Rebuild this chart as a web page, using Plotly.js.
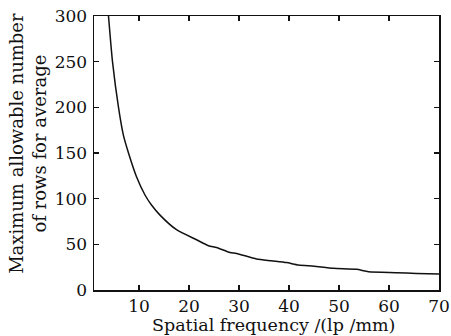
<!DOCTYPE html>
<html>
<head>
<meta charset="utf-8">
<script src="https://cdn.plot.ly/plotly-3.0.1.min.js"></script>
<style>html,body{margin:0;padding:0;background:#fff;}#chart{width:451px;height:336px;}</style>
</head>
<body>
<div id="chart"></div>
<script>
const freq = [3.9, 4.7, 5.9, 6.9, 7.9, 9.5, 11.2, 12.5, 14.2, 17.5, 21.5, 23.9, 25.5, 28.2, 29.5, 33.5, 36.5, 39.5, 41.9, 45, 48.9, 53.5, 55.9, 61.5, 65.5, 70];
const rows = [300, 250, 200, 169, 150, 124, 104, 93, 82, 66, 55, 48.5, 46.5, 41, 40, 34, 32, 30, 27.4, 26, 23.7, 22.6, 20, 19, 18.2, 17.5];
const xTicks = [10, 20, 30, 40, 50, 60, 70];
const yTicks = [0, 50, 100, 150, 200, 250, 300];
const xTitle = 'Spatial frequency /(lp /mm)';
const yTitle = 'Maximum allowable number<br>of rows for average';

const font = {family: 'DejaVu Serif', size: 18, color: '#111'};
const xTitleFont = {family: 'DejaVu Serif', size: 17.5, color: '#111'};
const tickFont = {family: 'DejaVu Serif', size: 17, color: '#111'};
const axisCommon = {
  showline: true, linecolor: '#111', linewidth: 1.5, mirror: 'ticks',
  ticks: 'inside', ticklen: 5, tickwidth: 1.2, tickcolor: '#111',
  showgrid: false, zeroline: false, tickfont: tickFont, fixedrange: true
};
const data = [{
  x: freq, y: rows, mode: 'lines', type: 'scatter',
  line: {color: '#111', width: 1.5, shape: 'spline', smoothing: 0.6}, hoverinfo: 'none'
}];
const layout = {
  width: 451, height: 336,
  margin: {l: 94, r: 12, t: 16, b: 46},
  paper_bgcolor: '#fff', plot_bgcolor: '#fff',
  showlegend: false, font: font,
  xaxis: Object.assign({}, axisCommon, {range: [1, 70], tickvals: xTicks, ticktext: xTicks.map(String), ticklabelstandoff: 0}),
  yaxis: Object.assign({}, axisCommon, {range: [0, 300], tickvals: yTicks, ticktext: yTicks.map(String), ticklabelstandoff: 2}),
  annotations: [
    {text: xTitle, xref: 'paper', yref: 'paper', x: 0.52, y: -0.168, xanchor: 'center', yanchor: 'bottom', showarrow: false, font: xTitleFont, borderpad: 0},
    {text: yTitle, xref: 'paper', yref: 'paper', x: -0.19, y: 0.535, xanchor: 'center', yanchor: 'middle', textangle: -90, showarrow: false, font: font}
  ]
};
Plotly.newPlot('chart', data, layout, {displayModeBar: false, staticPlot: true});
</script>
</body>
</html>
